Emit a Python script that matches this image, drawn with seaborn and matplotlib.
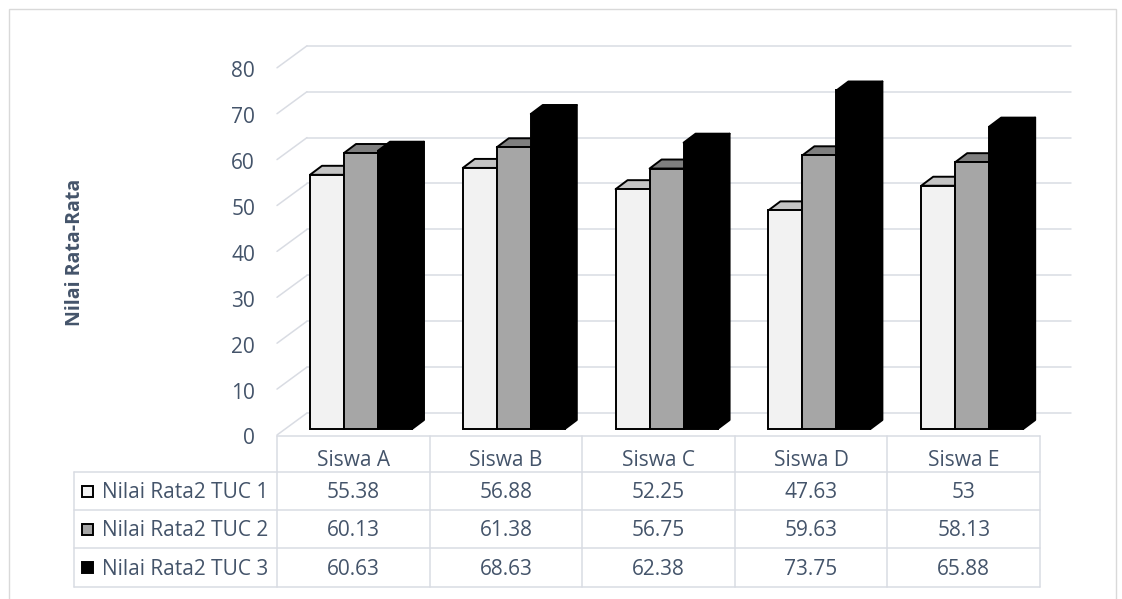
import matplotlib
matplotlib.use("Agg")
import matplotlib.pyplot as plt
from matplotlib.patches import Polygon, Rectangle
from matplotlib.lines import Line2D
import seaborn as sns
import pandas as pd
import numpy as np

# ---- data ----
categories = ["Siswa A", "Siswa B", "Siswa C", "Siswa D", "Siswa E"]
series_names = ["Nilai Rata2 TUC 1", "Nilai Rata2 TUC 2", "Nilai Rata2 TUC 3"]
tuc1 = [55.38, 56.88, 52.25, 47.63, 53]
tuc2 = [60.13, 61.38, 56.75, 59.63, 58.13]
tuc3 = [60.63, 68.63, 62.38, 73.75, 65.88]
y_ticks = [0, 10, 20, 30, 40, 50, 60, 70, 80]
y_label = "Nilai Rata-Rata"

series_values = [tuc1, tuc2, tuc3]
df = pd.DataFrame({
    "Siswa": categories * 3,
    "Seri": [s for s in series_names for _ in categories],
    "Nilai": tuc1 + tuc2 + tuc3,
})

sns.set_theme(style="white")
plt.rcParams["font.family"] = ["Open Sans", "DejaVu Sans"]

TXT = "#44546A"
GRID = "#D9DCE3"
FS = 15.0
front_cols = ["#F2F2F2", "#A6A6A6", "#000000"]
top_cols = ["#C4C4C4", "#7F7F7F", "#000000"]
side_cols = ["#A0A0A0", "#6E6E6E", "#000000"]

W, H = 1122, 599
fig = plt.figure(figsize=(W / 100, H / 100), dpi=100)
fig.patch.set_facecolor("white")

def fx(x):
    return x / W

def fy(y):
    return 1 - y / H

# outer border
fig.add_artist(Rectangle((fx(9), fy(640)), fx(1116) - fx(9), fy(9) - fy(640),
                         transform=fig.transFigure, fill=False,
                         edgecolor="#D9D9D9", linewidth=1.0))

# main axes = bar plane
ax_left, ax_w = 284.6, 764.0
base_px, px_per_unit = 429.0, 4.59
ymax = 80
ax_top = base_px - ymax * px_per_unit
ax = fig.add_axes([fx(ax_left), fy(base_px), ax_w / W, (base_px - ax_top) / H])

sns.barplot(data=df, x="Siswa", y="Nilai", hue="Seri", order=categories,
            hue_order=series_names, palette=front_cols, width=0.6675,
            saturation=1, edgecolor="black", linewidth=1.4, legend=False, ax=ax)
ax.set_xlim(-0.5, len(categories) - 0.5)
ax.set_ylim(0, ymax)
ax.axis("off")

ux = len(categories) / ax_w       # data units per px (x)
uy = ymax / (base_px - ax_top)    # data units per px (y)
front_off = (-7.6 * ux, -6 * uy)
back_off = (22.4 * ux, 16 * uy)
bar_dx, bar_dy = 12 * ux, 9 * uy

x0, x1 = -0.5, len(categories) - 0.5
# gridlines: diagonal on left side wall + back wall lines
for v in y_ticks:
    ax.add_line(Line2D([x0 + front_off[0], x0 + back_off[0]],
                       [v + front_off[1], v + back_off[1]],
                       color=GRID, linewidth=1.1, clip_on=False, zorder=0.5))
    ax.add_line(Line2D([x0 + back_off[0], x1 + back_off[0]],
                       [v + back_off[1], v + back_off[1]],
                       color=GRID, linewidth=1.1, clip_on=False, zorder=0.5))
    ax.text(x0 + front_off[0] - 22 * ux, v + front_off[1] - 4 * uy, str(v),
            ha="right", va="center", fontsize=FS, color=TXT, clip_on=False)

# 3D faces for bars
for p in list(ax.patches):
    fc = tuple(np.round(p.get_facecolor()[:3], 3))
    idx = 0
    for k, c in enumerate(front_cols):
        if tuple(np.round(matplotlib.colors.to_rgb(c), 3)) == fc:
            idx = k
    bx0 = p.get_x()
    bx1 = bx0 + p.get_width()
    h = p.get_height()
    top = Polygon([(bx0, h), (bx1, h), (bx1 + bar_dx, h + bar_dy), (bx0 + bar_dx, h + bar_dy)],
                  closed=True, facecolor=top_cols[idx], edgecolor="black",
                  linewidth=1.4, zorder=1.5, clip_on=False, joinstyle="round")
    side = Polygon([(bx1, 0), (bx1 + bar_dx, bar_dy), (bx1 + bar_dx, h + bar_dy), (bx1, h)],
                   closed=True, facecolor=side_cols[idx], edgecolor="black",
                   linewidth=1.4, zorder=1.5, clip_on=False, joinstyle="round")
    ax.add_patch(side)
    ax.add_patch(top)
    p.set_zorder(2)
    p.set_clip_on(False)

# y axis title
fig.text(fx(75), fy(252), y_label, rotation=90, ha="center", va="center",
         fontsize=14, fontweight="bold", color=TXT)

# ---- data table ----
col_left, col_w = 277.0, 152.6
tab_left = 74.0
row_edges = [436.0, 472.0, 510.0, 548.0, 587.0]
ncol = len(categories)
col_edges = [col_left + i * col_w for i in range(ncol + 1)]

def hline(y, xa, xb):
    fig.add_artist(Line2D([fx(xa), fx(xb)], [fy(y), fy(y)], transform=fig.transFigure,
                          color=GRID, linewidth=1.1))

def vline(x, ya, yb):
    fig.add_artist(Line2D([fx(x), fx(x)], [fy(ya), fy(yb)], transform=fig.transFigure,
                          color=GRID, linewidth=1.1))

hline(row_edges[0], col_edges[0], col_edges[-1])
for y in row_edges[1:]:
    hline(y, tab_left, col_edges[-1])
vline(tab_left, row_edges[1], row_edges[-1])
for x in col_edges:
    vline(x, row_edges[0], row_edges[-1])

for i, c in enumerate(categories):
    cx = (col_edges[i] + col_edges[i + 1]) / 2
    fig.text(fx(cx), fy(460.5), c, ha="center", va="center", fontsize=FS, color=TXT)

for r, (name, vals) in enumerate(zip(series_names, series_values)):
    cy = (row_edges[r + 1] + row_edges[r + 2]) / 2
    # legend key
    ks = 11
    fig.add_artist(Rectangle((fx(82), fy(cy + ks / 2)), ks / W, ks / H,
                             transform=fig.transFigure, facecolor=front_cols[r],
                             edgecolor="black", linewidth=1.4))
    fig.text(fx(102), fy(cy + 2), name, ha="left", va="center", fontsize=FS, color=TXT)
    for i, v in enumerate(vals):
        cx = (col_edges[i] + col_edges[i + 1]) / 2
        fig.text(fx(cx), fy(cy + 2), f"{v:g}", ha="center", va="center",
                 fontsize=FS, color=TXT)

fig.savefig("out.png", dpi=100)
